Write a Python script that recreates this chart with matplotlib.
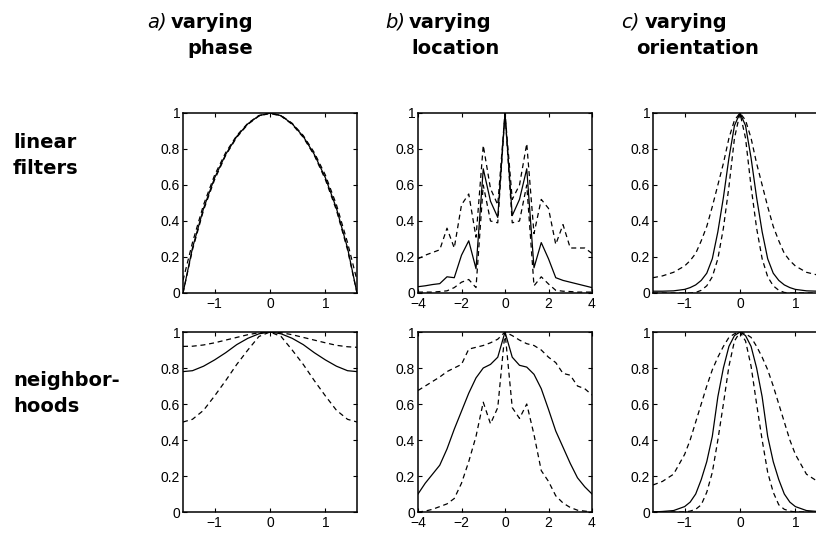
import matplotlib
matplotlib.use("Agg")
import matplotlib.pyplot as plt

# sample positions
XA = [-1.571, -1.4, -1.2, -1.0, -0.8, -0.6, -0.4, -0.2, 0.0,
      0.2, 0.4, 0.6, 0.8, 1.0, 1.2, 1.4, 1.571]
XB = [-4, -3.667, -3.333, -3, -2.667, -2.333, -2, -1.667, -1.333, -1,
      -0.667, -0.333, 0, 0.333, 0.667, 1, 1.333, 1.667, 2, 2.333,
      2.667, 3, 3.333, 3.667, 4]
XC = [-1.571, -1.4, -1.2, -1.0, -0.9, -0.8, -0.7, -0.6, -0.5, -0.4,
      -0.3, -0.2, -0.1, 0.0, 0.1, 0.2, 0.3, 0.4, 0.5, 0.6, 0.7, 0.8,
      0.9, 1.0, 1.2, 1.4, 1.571]

# linear filters, varying phase
lin_phase = [0.0, 0.25, 0.47, 0.64, 0.77, 0.87, 0.94, 0.985, 1.0,
             0.985, 0.94, 0.87, 0.77, 0.64, 0.47, 0.25, 0.0]
lin_phase_hi = [0.07, 0.28, 0.49, 0.655, 0.78, 0.875, 0.943, 0.986, 1.0,
                0.986, 0.943, 0.875, 0.78, 0.655, 0.49, 0.28, 0.07]
lin_phase_lo = [0.0, 0.24, 0.46, 0.63, 0.765, 0.865, 0.937, 0.983, 0.998,
                0.983, 0.937, 0.865, 0.765, 0.63, 0.46, 0.24, 0.0]

# linear filters, varying location
lin_loc = [0.035, 0.04, 0.047, 0.052, 0.09, 0.085, 0.21, 0.29, 0.135, 0.69,
           0.51, 0.42, 1.0, 0.43, 0.52, 0.69, 0.14, 0.28, 0.19, 0.085,
           0.07, 0.06, 0.05, 0.04, 0.03]
lin_loc_hi = [0.19, 0.21, 0.225, 0.24, 0.36, 0.25, 0.49, 0.55, 0.31, 0.82,
              0.58, 0.49, 1.0, 0.52, 0.60, 0.83, 0.33, 0.52, 0.47, 0.27,
              0.38, 0.25, 0.25, 0.25, 0.22]
lin_loc_lo = [0.005, 0.005, 0.005, 0.008, 0.012, 0.03, 0.06, 0.075, 0.03, 0.60,
              0.40, 0.39, 1.0, 0.39, 0.40, 0.60, 0.04, 0.09, 0.05, 0.015,
              0.01, 0.008, 0.005, 0.005, 0.005]

# linear filters, varying orientation
lin_ori = [0.01, 0.01, 0.012, 0.02, 0.03, 0.045, 0.07, 0.11, 0.19, 0.34,
           0.53, 0.75, 0.93, 1.0, 0.93, 0.75, 0.53, 0.34, 0.19, 0.11,
           0.07, 0.045, 0.03, 0.02, 0.012, 0.01, 0.01]
lin_ori_hi = [0.085, 0.095, 0.115, 0.15, 0.18, 0.22, 0.29, 0.37, 0.48, 0.60,
              0.72, 0.86, 0.96, 1.0, 0.96, 0.86, 0.72, 0.60, 0.48, 0.37,
              0.29, 0.22, 0.18, 0.15, 0.115, 0.10, 0.095]
lin_ori_lo = [0.0, 0.0, 0.0, 0.0, 0.0, 0.003, 0.015, 0.04, 0.09, 0.19,
              0.36, 0.59, 0.86, 1.0, 0.86, 0.59, 0.36, 0.19, 0.09, 0.04,
              0.015, 0.003, 0.0, 0.0, 0.0, 0.0, 0.0]

# neighborhoods, varying phase
nb_phase = [0.78, 0.785, 0.81, 0.845, 0.885, 0.93, 0.965, 0.99, 1.0,
            0.99, 0.965, 0.93, 0.885, 0.845, 0.81, 0.785, 0.78]
nb_phase_hi = [0.92, 0.921, 0.928, 0.94, 0.955, 0.97, 0.985, 0.996, 1.0,
               0.996, 0.985, 0.97, 0.955, 0.94, 0.926, 0.918, 0.915]
nb_phase_lo = [0.50, 0.515, 0.565, 0.645, 0.73, 0.82, 0.90, 0.975, 1.0,
               0.975, 0.90, 0.82, 0.73, 0.645, 0.565, 0.515, 0.50]

# neighborhoods, varying location
nb_loc = [0.10, 0.16, 0.21, 0.26, 0.35, 0.46, 0.56, 0.66, 0.745, 0.80,
          0.82, 0.86, 1.0, 0.86, 0.815, 0.805, 0.765, 0.685, 0.57, 0.45,
          0.36, 0.27, 0.19, 0.14, 0.10]
nb_loc_hi = [0.675, 0.70, 0.725, 0.75, 0.78, 0.80, 0.82, 0.905, 0.915, 0.925,
             0.94, 0.96, 1.0, 0.98, 0.955, 0.935, 0.925, 0.90, 0.86, 0.83,
             0.77, 0.76, 0.70, 0.685, 0.65]
nb_loc_lo = [0.0, 0.005, 0.015, 0.03, 0.045, 0.075, 0.16, 0.28, 0.42, 0.61,
             0.49, 0.58, 1.0, 0.58, 0.52, 0.60, 0.43, 0.23, 0.17, 0.09,
             0.05, 0.025, 0.01, 0.005, 0.0]

# neighborhoods, varying orientation
nb_ori = [0.0, 0.003, 0.008, 0.03, 0.055, 0.10, 0.18, 0.28, 0.42, 0.64,
          0.80, 0.92, 0.98, 1.0, 0.98, 0.92, 0.80, 0.64, 0.42, 0.28,
          0.18, 0.10, 0.055, 0.03, 0.008, 0.003, 0.0]
nb_ori_hi = [0.15, 0.17, 0.21, 0.32, 0.40, 0.50, 0.60, 0.70, 0.79, 0.86,
             0.92, 0.97, 0.99, 1.0, 0.99, 0.97, 0.92, 0.86, 0.79, 0.70,
             0.60, 0.50, 0.40, 0.32, 0.21, 0.17, 0.15]
nb_ori_lo = [0.0, 0.0, 0.0, 0.0, 0.005, 0.015, 0.04, 0.11, 0.22, 0.40,
             0.60, 0.81, 0.95, 1.0, 0.95, 0.81, 0.60, 0.40, 0.22, 0.11,
             0.04, 0.015, 0.005, 0.0, 0.0, 0.0, 0.0]

col_titles = [("a)", "varying", "phase"),
              ("b)", "varying", "location"),
              ("c)", "varying", "orientation")]
row_titles = [("linear", "filters"), ("neighbor-", "hoods")]

panels = [
    [(XA, lin_phase, lin_phase_hi, lin_phase_lo),
     (XB, lin_loc, lin_loc_hi, lin_loc_lo),
     (XC, lin_ori, lin_ori_hi, lin_ori_lo)],
    [(XA, nb_phase, nb_phase_hi, nb_phase_lo),
     (XB, nb_loc, nb_loc_hi, nb_loc_lo),
     (XC, nb_ori, nb_ori_hi, nb_ori_lo)],
]
xlims = [(-1.571, 1.571), (-4, 4), (-1.571, 1.571)]
xticks = [[-1, 0, 1], [-4, -2, 0, 2, 4], [-1, 0, 1]]

W, H = 816, 533
fig = plt.figure(figsize=(W / 100, H / 100), dpi=100)

tick_font = "Liberation Sans"
head_font = "DejaVu Sans"

# axes boxes in pixels (third column runs past the right edge)
lefts = [183, 418, 653]
tops = [113, 332]
aw, ah = 174, 180

for r in range(2):
    for c in range(3):
        x, s, hi, lo = panels[r][c]
        ax = fig.add_axes([lefts[c] / W, 1 - (tops[r] + ah) / H, aw / W, ah / H])
        ax.plot(x, s, color="black", lw=0.9)
        ax.plot(x, hi, color="black", lw=0.9, ls=(0, (4, 3)))
        ax.plot(x, lo, color="black", lw=0.9, ls=(0, (4, 3)))
        ax.set_xlim(*xlims[c])
        ax.set_ylim(0, 1)
        ax.set_xticks(xticks[c])
        ax.set_xticklabels(["\u2212" + str(-t) if t < 0 else str(t) for t in xticks[c]])
        ax.set_yticks([0, 0.2, 0.4, 0.6, 0.8, 1])
        ax.set_yticklabels(["0", "0.2", "0.4", "0.6", "0.8", "1"])
        ax.tick_params(direction="in", top=True, right=True, length=3,
                       width=0.8, labelsize=10)
        ax.tick_params(axis="x", pad=3)
        ax.tick_params(axis="y", pad=2)
        for lab in ax.get_xticklabels() + ax.get_yticklabels():
            lab.set_fontfamily(tick_font)
        for sp in ax.spines.values():
            sp.set_linewidth(1.1)

# column headings
head_x = [(147, 171, 187), (385, 409, 411), (621, 645, 636)]
for (tag, w1, w2), (xa, xv, x2) in zip(col_titles, head_x):
    fig.text(xa / W, 1 - 28 / H, tag, fontsize=14, style="italic",
             family=head_font, va="baseline")
    fig.text(xv / W, 1 - 28 / H, w1, fontsize=14, weight="bold",
             family=head_font, va="baseline")
    fig.text(x2 / W, 1 - 54 / H, w2, fontsize=14, weight="bold",
             family=head_font, va="baseline")

# row headings
row_y = [(148, 174), (386, 412)]
for (l1, l2), (y1, y2) in zip(row_titles, row_y):
    fig.text(13 / W, 1 - y1 / H, l1, fontsize=14, weight="bold",
             family=head_font, va="baseline")
    fig.text(13 / W, 1 - y2 / H, l2, fontsize=14, weight="bold",
             family=head_font, va="baseline")

fig.savefig("out.png", dpi=100)
